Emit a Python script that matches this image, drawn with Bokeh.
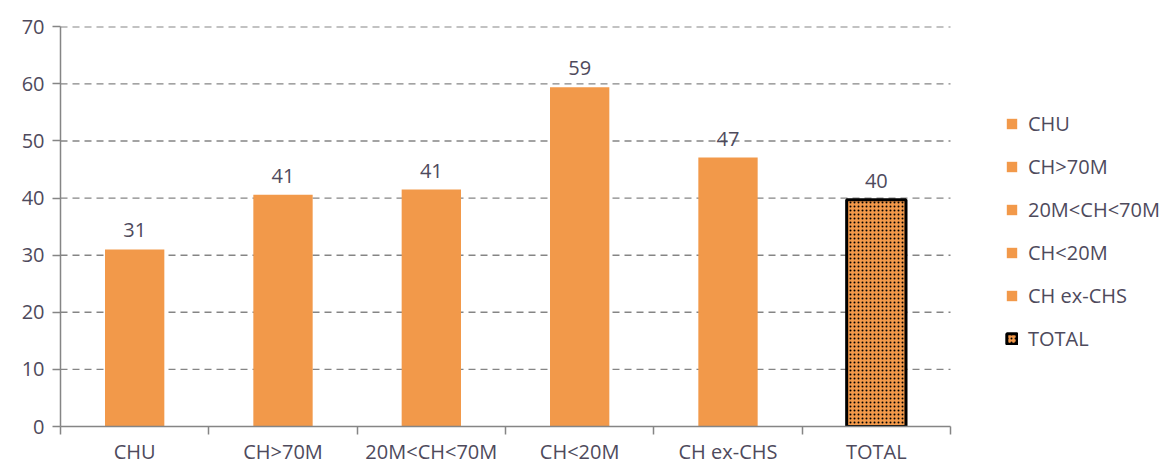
from bokeh.plotting import figure
from bokeh.models import (Range1d, FixedTicker, Legend, LegendItem, ColumnDataSource,
                          LabelSet)
from bokeh.core.properties import value
from bokeh.embed import file_html
from bokeh.resources import INLINE

categories = ["CHU", "CH>70M", "20M<CH<70M", "CH<20M", "CH ex-CHS", "TOTAL"]
values = [31.0, 40.6, 41.5, 59.4, 47.1, 39.7]
labels = ["31", "41", "41", "59", "47", "40"]
y_ticks = [0, 10, 20, 30, 40, 50, 60, 70]

ORANGE = "#F2994A"
TEXT = "#4E4A5C"
GRID = "#858585"
FONT = "Open Sans"

W, H = 1169, 467
LEFT, RIGHT_EDGE, TOP, BOTTOM = 60, 950, 26, 39
n = len(categories)
positions = [i + 0.5 for i in range(n)]
unit_px = (RIGHT_EDGE - LEFT) / n
x_end = (W - LEFT) / unit_px

p = figure(width=W, height=H, output_backend="svg", toolbar_location=None,
           x_range=Range1d(0, x_end), y_range=Range1d(0, 70.05))
p.min_border_left = LEFT
p.min_border_right = 0
p.min_border_top = TOP
p.min_border_bottom = BOTTOM
p.outline_line_color = None
p.background_fill_color = "white"
p.border_fill_color = "white"

# dashed horizontal gridlines across the category area only
p.segment(x0=[0] * (len(y_ticks) - 1), x1=[n] * (len(y_ticks) - 1),
          y0=y_ticks[1:], y1=y_ticks[1:], line_color=GRID, line_dash="7 5",
          line_width=1.4)

items = []
for i, (cat, v, lab) in enumerate(zip(categories, values, labels)):
    src = ColumnDataSource(dict(x=[positions[i]], top=[v], lab=[lab]))
    if cat == "TOTAL":
        r = p.vbar(x="x", top="top", width=0.4, source=src, fill_color=ORANGE,
                   line_color="black", line_width=3, hatch_pattern="dot",
                   hatch_color="black", hatch_scale=4, hatch_weight=1.4)
    else:
        r = p.vbar(x="x", top="top", width=0.4, source=src, fill_color=ORANGE,
                   line_color=None)
    items.append(LegendItem(label=cat, renderers=[r]))
    ls = LabelSet(x="x", y="top", text="lab", source=src, text_align="center",
                  text_baseline="bottom", y_offset=12, text_font=value(FONT),
                  text_font_size="20px", text_color=TEXT)
    p.add_layout(ls)

# axes
p.xaxis.bounds = (0, n)
p.xaxis.ticker = FixedTicker(ticks=positions, minor_ticks=list(range(n + 1)))
p.xaxis.major_label_overrides = {pos: c for pos, c in zip(positions, categories)}
p.xaxis.major_tick_out = 0
p.xaxis.major_tick_in = 0
p.xaxis.minor_tick_out = 8
p.xaxis.minor_tick_in = 0
p.xaxis.minor_tick_line_color = GRID
p.xaxis.minor_tick_line_width = 1.5
p.xaxis.axis_line_color = GRID
p.xaxis.axis_line_width = 1.5
p.xaxis.major_label_text_font = FONT
p.xaxis.major_label_text_font_size = "20px"
p.xaxis.major_label_text_color = TEXT
p.xaxis.major_label_standoff = 3

p.yaxis.ticker = FixedTicker(ticks=y_ticks)
p.yaxis.minor_tick_line_color = None
p.yaxis.major_tick_out = 8
p.yaxis.major_tick_in = 0
p.yaxis.major_tick_line_color = GRID
p.yaxis.major_tick_line_width = 1.5
p.yaxis.axis_line_color = GRID
p.yaxis.axis_line_width = 1.5
p.yaxis.major_label_text_font = FONT
p.yaxis.major_label_text_font_size = "20px"
p.yaxis.major_label_text_color = TEXT
p.yaxis.major_label_standoff = 8

p.xgrid.grid_line_color = None
p.ygrid.grid_line_color = None

legend = Legend(items=items, location=(945, 74), padding=0, spacing=16, margin=0,
                glyph_width=13, glyph_height=13, label_standoff=10,
                label_text_font=FONT, label_text_font_size="20px",
                label_text_color=TEXT, border_line_color=None,
                background_fill_alpha=0)
p.add_layout(legend)

open("out.html", "w").write(file_html(p, INLINE))
